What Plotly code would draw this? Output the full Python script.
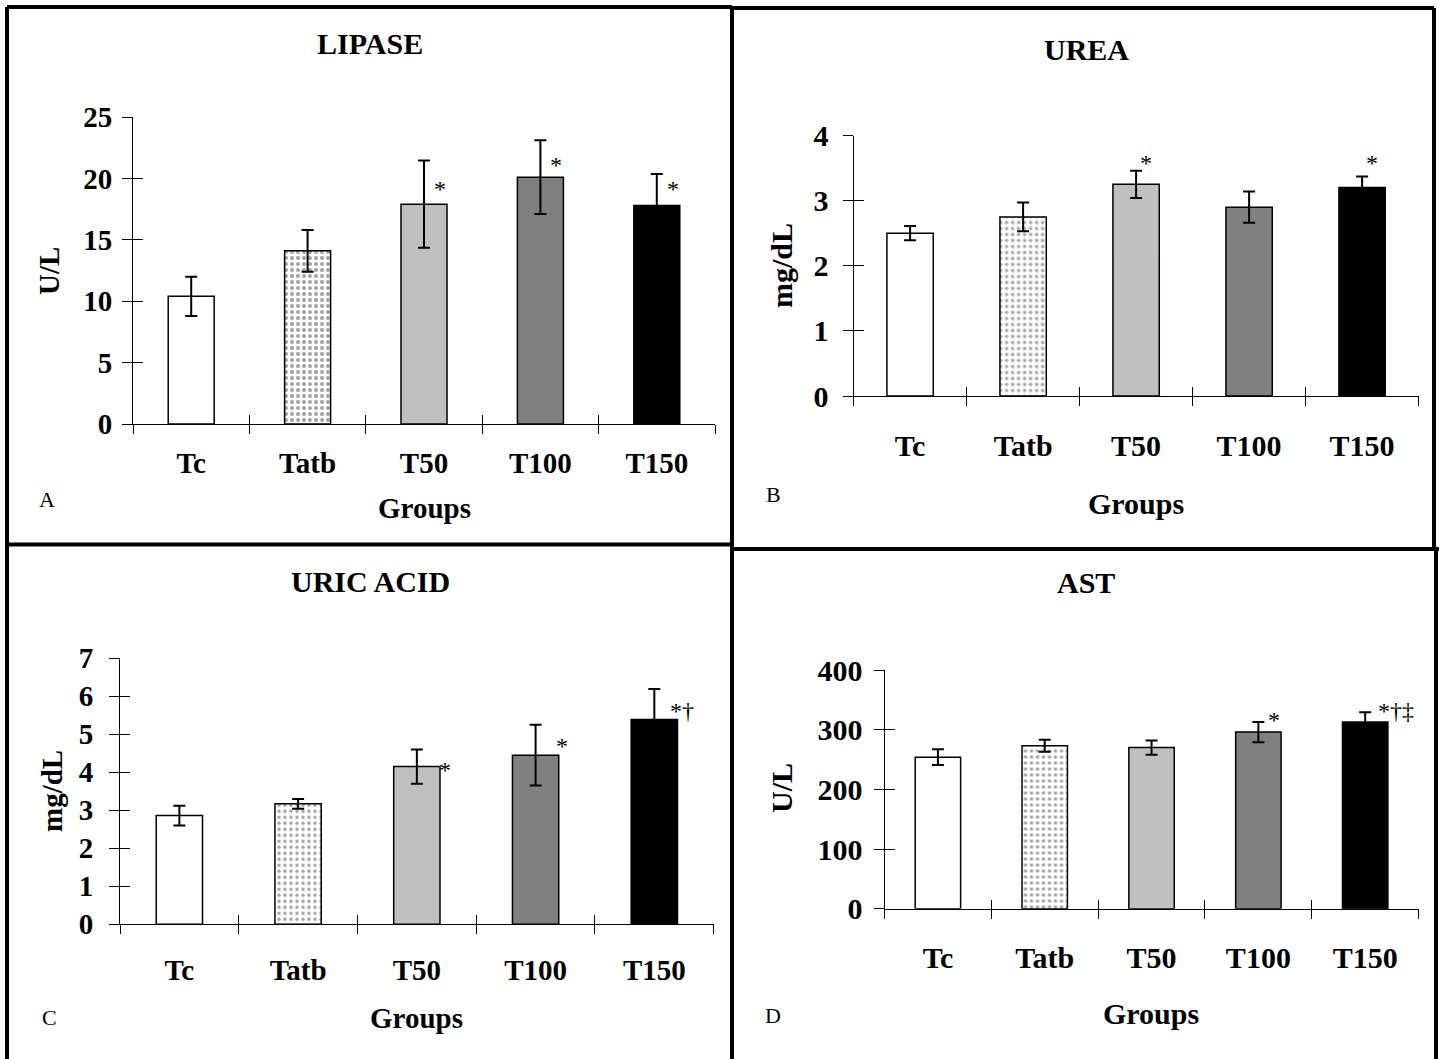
import plotly.graph_objects as go

# ---------------- data ----------------
groups = ["Tc", "Tatb", "T50", "T100", "T150"]

lipase_mean = [10.4, 14.1, 17.9, 20.1, 17.8]
lipase_sd = [1.6, 1.7, 3.55, 3.0, 2.55]
lipase_marks = ["", "", "*", "*", "*"]

urea_mean = [2.50, 2.75, 3.25, 2.90, 3.20]
urea_sd = [0.11, 0.22, 0.21, 0.24, 0.17]
urea_marks = ["", "", "*", "", "*"]

uric_mean = [2.86, 3.17, 4.15, 4.45, 5.39]
uric_sd = [0.26, 0.13, 0.45, 0.80, 0.80]
uric_marks = ["", "", "*", "*", "*†"]

ast_mean = [254, 273, 270, 296, 313]
ast_sd = [13, 10, 12, 17, 16]
ast_marks = ["", "", "", "*", "*†‡"]

lipase_ticks = [0, 5, 10, 15, 20, 25]
urea_ticks = [0, 1, 2, 3, 4]
uric_ticks = [0, 1, 2, 3, 4, 5, 6, 7]
ast_ticks = [0, 100, 200, 300, 400]

# ---------------- styling / layout ----------------
W, H = 1439, 1059
FONT = "Liberation Serif"
bar_colors = ["#FFFFFF", "#FFFFFF", "#C0C0C0", "#808080", "#000000"]
bar_shapes = ["", ".", "", "", ""]


def px_x(p):
    return p / W


def px_y(p):
    return 1 - p / H


panels = [
    dict(key="A", title="LIPASE", ytitle="U/L", mean=lipase_mean, sd=lipase_sd,
         marks=lipase_marks, ticks=lipase_ticks,
         x0=133, x1=715, y0=424, y1=117, bw=0.395, fs=29, dotcolor="#D01818", sol=0.34,
         title_xy=(370, 43), letter_xy=(47, 499), ytitle_xy=(49, 271), xtitle_xy=(424, 508),
         xstand=13, ystand=4,
         mark_off=[None, None, (16, 15), (16, 12), (16, 16)]),
    dict(key="B", title="UREA", ytitle="mg/dL", mean=urea_mean, sd=urea_sd,
         marks=urea_marks, ticks=urea_ticks,
         x0=853.6, x1=1418.6, y0=396, y1=135.5, bw=0.41, fs=30, dotcolor="#303030", sol=0.28,
         title_xy=(1086, 49), letter_xy=(773, 495), ytitle_xy=(782, 266), xtitle_xy=(1136, 504),
         xstand=23, ystand=8,
         mark_off=[None, None, (10, 21), None, (10, 25)]),
    dict(key="C", title="URIC ACID", ytitle="mg/dL", mean=uric_mean, sd=uric_sd,
         marks=uric_marks, ticks=uric_ticks,
         x0=120, x1=713.7, y0=924.3, y1=658.3, bw=0.39, fs=29, dotcolor="#303030", sol=0.28,
         title_xy=(370, 581), letter_xy=(49, 1018), ytitle_xy=(52, 791), xtitle_xy=(416, 1018),
         xstand=20, ystand=10,
         mark_off=[None, None, (28, -3), (26, 9), (28, 8)]),
    dict(key="D", title="AST", ytitle="U/L", mean=ast_mean, sd=ast_sd,
         marks=ast_marks, ticks=ast_ticks,
         x0=884.5, x1=1418.6, y0=908.7, y1=670, bw=0.425, fs=30, dotcolor="#303030", sol=0.28,
         title_xy=(1086, 582), letter_xy=(773, 1015), ytitle_xy=(781, 788), xtitle_xy=(1151, 1013),
         xstand=22, ystand=5,
         mark_off=[None, None, None, (16, 12), (31, 11)]),
]

fig = go.Figure()
layout = dict(
    width=W, height=H, autosize=False,
    margin=dict(l=0, r=0, t=0, b=0, pad=0, autoexpand=False),
    paper_bgcolor="white", plot_bgcolor="rgba(0,0,0,0)",
    showlegend=False, font=dict(family=FONT, color="black"),
)
annotations = []
xs = list(range(len(groups)))
bounds = [i - 0.5 for i in range(len(groups) + 1)]

for i, p in enumerate(panels):
    n = i + 1
    xa = "x" if n == 1 else f"x{n}"
    ya = "y" if n == 1 else f"y{n}"
    xo = f"x{n + 4}"   # outside category ticks
    xi = f"x{n + 8}"   # inside category ticks
    yi = f"y{n + 4}"   # inside value ticks
    ymax = p["ticks"][-1]
    dom_x = [px_x(p["x0"]), px_x(p["x1"])]
    dom_y = [px_y(p["y0"]), px_y(p["y1"])]
    axfont = dict(family=FONT, size=p["fs"], color="black", weight="bold")

    fig.add_trace(go.Bar(
        x=xs, y=p["mean"], width=p["bw"], xaxis=xa, yaxis=ya,
        marker=dict(
            color=bar_colors,
            line=dict(color="black", width=1.5),
            pattern=dict(shape=bar_shapes, fgcolor=p["dotcolor"], size=6, solidity=p["sol"]),
        ),
        error_y=dict(type="data", array=p["sd"], color="black", thickness=2, width=6),
        hoverinfo="skip",
    ))
    # helper traces so the overlay tick axes get drawn
    fig.add_trace(go.Scatter(x=[], y=[], xaxis=xo, yaxis=ya, hoverinfo="skip"))
    fig.add_trace(go.Scatter(x=[], y=[], xaxis=xi, yaxis=ya, hoverinfo="skip"))
    fig.add_trace(go.Scatter(x=[], y=[], xaxis=xa, yaxis=yi, hoverinfo="skip"))

    common = dict(automargin=False, showgrid=False, zeroline=False, fixedrange=True)
    xkey = "xaxis" if n == 1 else f"xaxis{n}"
    ykey = "yaxis" if n == 1 else f"yaxis{n}"
    layout[xkey] = dict(
        domain=dom_x, anchor=ya, type="linear", range=[-0.5, len(groups) - 0.5],
        tickmode="array", tickvals=xs, ticktext=groups, ticks="",
        tickfont=axfont, ticklabelstandoff=p["xstand"],
        showline=True, linecolor="black", linewidth=1, **common,
    )
    layout[f"xaxis{n + 4}"] = dict(
        overlaying=xa, anchor=ya, type="linear", range=[-0.5, len(groups) - 0.5],
        tickmode="array", tickvals=bounds, ticks="outside", ticklen=9, tickwidth=1,
        tickcolor="black", showticklabels=False, showline=False, **common,
    )
    layout[f"xaxis{n + 8}"] = dict(
        overlaying=xa, anchor=ya, type="linear", range=[-0.5, len(groups) - 0.5],
        tickmode="array", tickvals=bounds, ticks="inside", ticklen=9, tickwidth=1,
        tickcolor="black", showticklabels=False, showline=False, **common,
    )
    layout[ykey] = dict(
        domain=dom_y, anchor=xa, type="linear", range=[0, ymax],
        tickmode="array", tickvals=p["ticks"], ticks="outside", ticklen=10, tickwidth=1,
        tickcolor="black", tickfont=axfont, ticklabelstandoff=p["ystand"],
        showline=True, linecolor="black", linewidth=1, **common,
    )
    layout[f"yaxis{n + 4}"] = dict(
        overlaying=ya, anchor=xa, type="linear", range=[0, ymax],
        tickmode="array", tickvals=p["ticks"], ticks="inside", ticklen=10, tickwidth=1,
        tickcolor="black", showticklabels=False, showline=False, **common,
    )

    # panel title, letter, axis titles
    tx, ty = p["title_xy"]
    annotations.append(dict(text=p["title"], x=px_x(tx), y=px_y(ty), xref="paper", yref="paper",
                            showarrow=False, xanchor="center", yanchor="middle",
                            font=dict(family=FONT, size=30, color="black", weight="bold")))
    lx, ly = p["letter_xy"]
    annotations.append(dict(text=p["key"], x=px_x(lx), y=px_y(ly), xref="paper", yref="paper",
                            showarrow=False, xanchor="center", yanchor="middle",
                            font=dict(family=FONT, size=22, color="black")))
    yx, yy = p["ytitle_xy"]
    annotations.append(dict(text=p["ytitle"], x=px_x(yx), y=px_y(yy), xref="paper", yref="paper",
                            showarrow=False, xanchor="center", yanchor="middle", textangle=-90,
                            font=dict(family=FONT, size=p["fs"], color="black", weight="bold")))
    gx, gy = p["xtitle_xy"]
    annotations.append(dict(text="Groups", x=px_x(gx), y=px_y(gy), xref="paper", yref="paper",
                            showarrow=False, xanchor="center", yanchor="middle",
                            font=dict(family=FONT, size=p["fs"], color="black", weight="bold")))
    # significance marks next to bars
    for j, m in enumerate(p["marks"]):
        if not m:
            continue
        dx, dy = p["mark_off"][j]
        annotations.append(dict(text=m, x=xs[j], y=p["mean"][j], xref=xa, yref=ya,
                                xshift=dx, yshift=dy, showarrow=False,
                                xanchor="center", yanchor="middle",
                                font=dict(family=FONT, size=24, color="black")))

layout["annotations"] = annotations

# panel frame lines
lw = 4
frame = [
    (7, 7, 7, 1059),
    (7, 7, 732, 7),
    (732, 8, 1434, 8),
    (1434, 8, 1434, 549),
    (732, 7, 732, 1059),
    (7, 544.5, 732, 544.5),
    (732, 549, 1439, 549),
    (1436, 549, 1436, 1059),
]
layout["shapes"] = [
    dict(type="line", xref="paper", yref="paper",
         x0=px_x(a), y0=px_y(b), x1=px_x(c), y1=px_y(d),
         line=dict(color="black", width=lw))
    for a, b, c, d in frame
]

fig.update_layout(**layout)
fig.write_html("out.html", config={"displayModeBar": False},
               post_script="document.body.style.margin='0px';")
